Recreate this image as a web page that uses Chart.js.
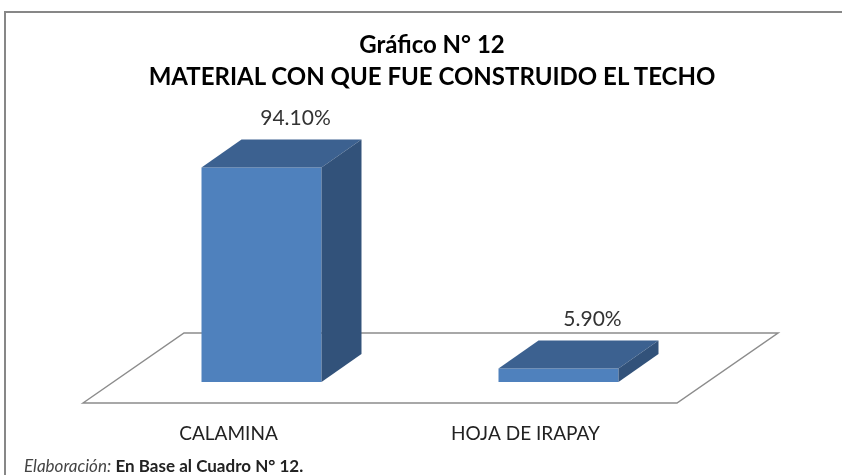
<!DOCTYPE html>
<html lang="es">
<head>
  <meta charset="UTF-8">
  <title>Gráfico N° 12</title>
  <script src="https://cdn.jsdelivr.net/npm/chart.js"></script>
  <style>
    html, body { margin: 0; padding: 0; background: #fff; }
    #wrap { position: relative; width: 842px; height: 475px; overflow: hidden; font-family: Lato, "Open Sans", sans-serif; }
    #frame { position: absolute; left: 4px; top: 11px; width: 900px; height: 500px; border-left: 2px solid #878787; border-top: 2px solid #878787; }
    #title { position: absolute; left: 0; width: 864px; top: 28px; text-align: center; font-weight: bold; font-size: 24px; line-height: 32px; color: #000; }
    #foot { position: absolute; left: 24px; top: 455px; font-size: 17px; color: #222; white-space: nowrap; }
    #foot i { color: #444; }
    canvas { position: absolute; left: 0; top: 0; }
  </style>
</head>
<body>
<div id="wrap">
  <div id="frame"></div>
  <canvas id="chart" width="842" height="475"></canvas>
  <div id="title">Gráfico N° 12<br>MATERIAL CON QUE FUE CONSTRUIDO EL TECHO</div>
  <div id="foot"><i>Elaboración:</i> <b>En Base al Cuadro N° 12.</b></div>
</div>

<script>
  // datos del cuadro 12
  const categorias = ['CALAMINA', 'HOJA DE IRAPAY'];
  const porcentajes = [94.10, 5.90];

  const depthX = 40, depthY = -28;   // profundidad de las barras
  const floorFront = { dx: -30, dy: 21 };
  const floorBack = { dx: 71, dy: -49 };

  // piso y caras 3D
  const bars3d = {
    id: 'bars3d',
    beforeDatasetsDraw(chart) {
      const { ctx, chartArea: a } = chart;
      const base = chart.scales.y.getPixelForValue(0);
      ctx.save();
      ctx.beginPath();
      ctx.moveTo(a.left + floorFront.dx, base + floorFront.dy);
      ctx.lineTo(a.left + floorBack.dx, base + floorBack.dy);
      ctx.lineTo(a.right + floorBack.dx, base + floorBack.dy);
      ctx.lineTo(a.right + floorFront.dx, base + floorFront.dy);
      ctx.closePath();
      ctx.fillStyle = '#fff';
      ctx.fill();
      ctx.strokeStyle = '#8c8c8c';
      ctx.lineWidth = 1.5;
      ctx.stroke();
      ctx.restore();
    },
    afterDatasetsDraw(chart) {
      const { ctx } = chart;
      const meta = chart.getDatasetMeta(0);
      ctx.save();
      meta.data.forEach((bar, i) => {
        const p = bar.getProps(['x', 'y', 'base', 'width'], true);
        const l = p.x - p.width / 2, r = p.x + p.width / 2;
        // cara superior
        ctx.beginPath();
        ctx.moveTo(l, p.y);
        ctx.lineTo(l + depthX, p.y + depthY);
        ctx.lineTo(r + depthX, p.y + depthY);
        ctx.lineTo(r, p.y);
        ctx.closePath();
        ctx.fillStyle = '#3c6190';
        ctx.fill();
        // cara lateral
        ctx.beginPath();
        ctx.moveTo(r, p.y);
        ctx.lineTo(r + depthX, p.y + depthY);
        ctx.lineTo(r + depthX, p.base + depthY);
        ctx.lineTo(r, p.base);
        ctx.closePath();
        ctx.fillStyle = '#32527a';
        ctx.fill();
        // etiqueta
        ctx.fillStyle = '#333';
        ctx.font = '21px Lato, "Open Sans", sans-serif';
        ctx.textAlign = 'center';
        ctx.textBaseline = 'middle';
        ctx.fillText(porcentajes[i].toFixed(2) + '%', p.x + 34, p.y - 49);
      });
      ctx.restore();
    }
  };

  new Chart(document.getElementById('chart'), {
    type: 'bar',
    data: {
      labels: categorias,
      datasets: [{ data: porcentajes, backgroundColor: '#4f81bd', borderWidth: 0,
                   categoryPercentage: 1, barPercentage: 0.404 }]
    },
    options: {
      responsive: false,
      animation: false,
      layout: { padding: { left: 113, right: 135, top: 154, bottom: 0 } },
      plugins: { legend: { display: false }, tooltip: { enabled: false } },
      scales: {
        x: {
          grid: { display: false, drawTicks: false },
          border: { display: false },
          ticks: { color: '#222', font: { family: 'Lato', size: 19 }, padding: 40, labelOffset: -33 },
          afterFit(scale) { scale.height = 93; }
        },
        y: { display: false, min: 0, max: 100 }
      }
    },
    plugins: [bars3d]
  });
</script>
</body>
</html>
